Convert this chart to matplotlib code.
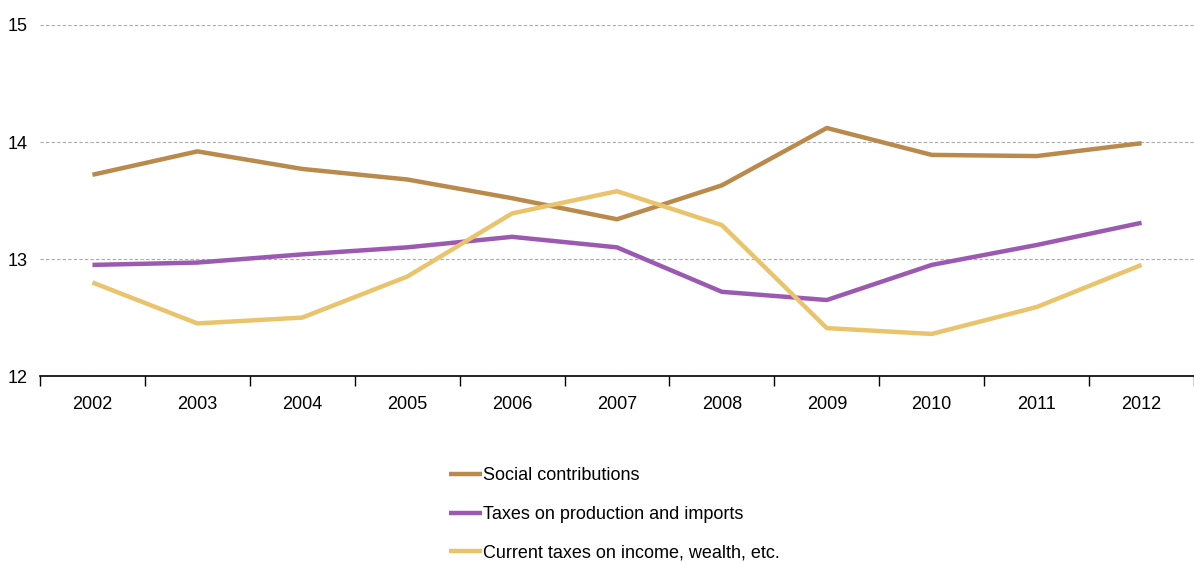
import numpy as np
import matplotlib.pyplot as plt

plt.rcParams['font.family'] = ['Liberation Sans Narrow', 'Liberation Sans', 'DejaVu Sans']

years = ['2002', '2003', '2004', '2005', '2006', '2007', '2008', '2009', '2010', '2011', '2012']
social = [13.72, 13.92, 13.77, 13.68, 13.52, 13.34, 13.63, 14.12, 13.89, 13.88, 13.99]
production = [12.95, 12.97, 13.04, 13.10, 13.19, 13.10, 12.72, 12.65, 12.95, 13.12, 13.31]
income = [12.80, 12.45, 12.50, 12.85, 13.39, 13.58, 13.29, 12.41, 12.36, 12.59, 12.95]

labels = ['Social contributions', 'Taxes on production and imports',
          'Current taxes on income, wealth, etc.']
colors = ['#B98A4C', '#9B59B1', '#E9C46C']

fig = plt.figure(figsize=(11.94, 5.63), dpi=100)
ax = fig.add_axes([0.0335, 0.332, 0.9665, 0.6236])

x = np.arange(len(years))
for serie, lab, col in zip([social, production, income], labels, colors):
    ax.plot(x, serie, color=col, lw=3.2, label=lab, solid_capstyle='butt')

ax.set_xlim(-0.5, len(years) - 0.5)
ax.set_ylim(12, 15)
ax.set_yticks([12, 13, 14, 15])
ax.yaxis.grid(True, color='#AAAAAA', linestyle=(0, (3, 2)), lw=0.8)
ax.set_axisbelow(True)

ax.set_xticks(x)
ax.set_xticklabels(years, fontsize=13)
ax.set_xticks(np.arange(-0.5, len(years)), minor=True)
ax.tick_params(axis='x', which='major', length=0, pad=14)
ax.tick_params(axis='x', which='minor', length=7, width=1, color='black', direction='out')
ax.tick_params(axis='y', length=0, labelsize=13, pad=9)

for s in ['top', 'right', 'left']:
    ax.spines[s].set_visible(False)
ax.spines['bottom'].set_color('black')
ax.spines['bottom'].set_linewidth(1.2)

fig.legend(loc='upper left', bbox_to_anchor=(0.370, 0.183), frameon=False,
           fontsize=13, handlelength=1.8, handletextpad=0.1, labelspacing=1.2,
           borderaxespad=0)

fig.savefig('out.png', dpi=100)
